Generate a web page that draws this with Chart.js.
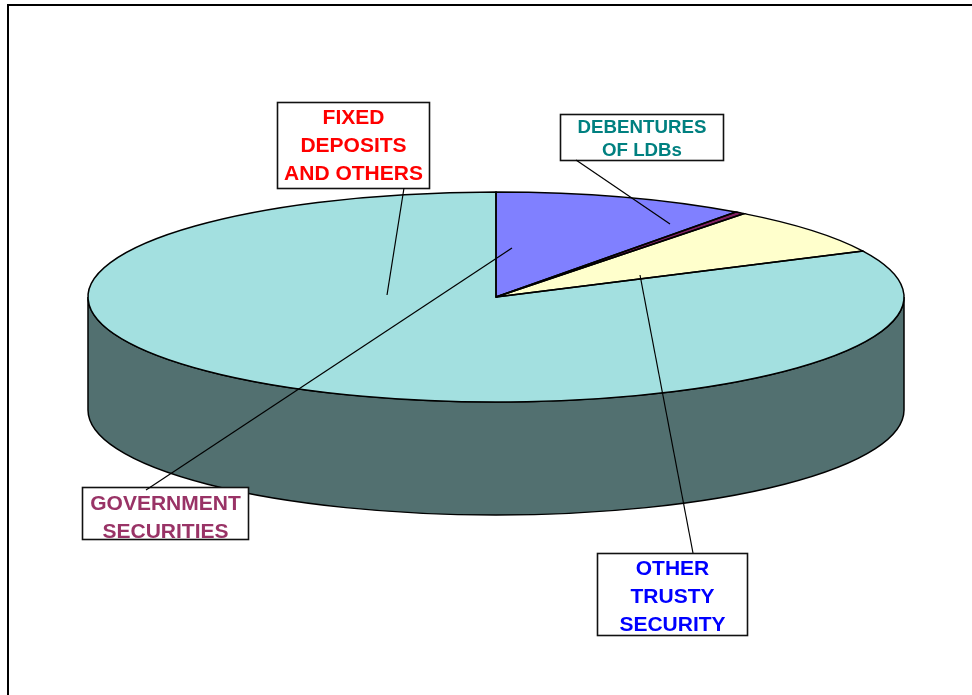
<!DOCTYPE html>
<html>
<head>
<meta charset="utf-8">
<title>Pie</title>
<script src="https://cdn.jsdelivr.net/npm/chart.js@4/dist/chart.umd.js"></script>
<style>
  html, body { margin: 0; padding: 0; background: #fff; overflow: hidden; }
  canvas { display: block; }
</style>
</head>
<body>
<canvas id="pie" width="972" height="695"></canvas>
<script>
// share of each slice, clockwise from 12 o'clock
const categories = ['GOVERNMENT SECURITIES', 'DEBENTURES OF LDBs', 'OTHER TRUSTY SECURITY', 'FIXED DEPOSITS AND OTHERS'];
const values = [10.0, 0.4, 7.4, 82.2];
const sliceColors = ['#8080FF', '#802060', '#FFFFCC', '#A3E0E0'];

// callout boxes
const labelLines = [
  ['GOVERNMENT', 'SECURITIES'],
  ['DEBENTURES', 'OF LDBs'],
  ['OTHER', 'TRUSTY', 'SECURITY'],
  ['FIXED', 'DEPOSITS', 'AND OTHERS']
];
const labelColors = ['#993366', '#008080', '#0000FF', '#FF0000'];
const labelBoxes = [
  [82.5, 487.5, 166, 52],
  [560.5, 114.5, 163, 46],
  [597.5, 553.5, 150, 82],
  [277.5, 102.5, 152, 86]
];
const labelFonts = [21, 18.7, 21, 21];
const labelFirstY = [504, 127.5, 569, 118];
const labelStep = [28, 23.5, 28, 28];
const leaders = [
  [146, 490, 512, 248],
  [576, 160, 670, 224],
  [693, 553, 640, 275],
  [404, 188, 387, 295]
];

// squashed pie geometry
const CX = 496, CY = 297, RX = 408, RY = 105, DEPTH = 113;

function squash(ctx, arc) {
  const r = arc.outerRadius;
  ctx.translate(CX, CY);
  ctx.scale(RX / r, RY / r);
  ctx.translate(-arc.x, -arc.y);
}

const tiltPlugin = {
  id: 'tilt',
  beforeDatasetsDraw(chart) {
    const ctx = chart.ctx;
    // side wall of the disc
    ctx.save();
    ctx.beginPath();
    ctx.ellipse(CX, CY, RX, RY, 0, Math.PI, 0, true);
    ctx.lineTo(CX + RX, CY + DEPTH);
    ctx.ellipse(CX, CY + DEPTH, RX, RY, 0, 0, Math.PI, false);
    ctx.closePath();
    ctx.fillStyle = '#527070';
    ctx.fill();
    ctx.strokeStyle = '#000';
    ctx.lineWidth = 1.5;
    ctx.stroke();
    ctx.restore();

    ctx.save();
    squash(ctx, chart.getDatasetMeta(0).data[0]);
  },
  afterDatasetsDraw(chart) {
    const ctx = chart.ctx;
    ctx.restore();
    // outlines go here so the line width is not squashed with the arcs
    chart.getDatasetMeta(0).data.forEach(arc => {
      ctx.save();
      squash(ctx, arc);
      ctx.beginPath();
      ctx.moveTo(arc.x, arc.y);
      ctx.arc(arc.x, arc.y, arc.outerRadius, arc.startAngle, arc.endAngle);
      ctx.closePath();
      ctx.restore();
      ctx.strokeStyle = '#000';
      ctx.lineWidth = 1.5;
      ctx.stroke();
    });
  },
  afterDraw(chart) {
    const ctx = chart.ctx;
    ctx.save();

    // page frame, only top and left show
    ctx.strokeStyle = '#000';
    ctx.lineWidth = 2;
    ctx.beginPath();
    ctx.moveTo(8, 695);
    ctx.lineTo(8, 5);
    ctx.lineTo(972, 5);
    ctx.stroke();

    // boxes and their text, the text gets cut by the box like in the original
    labelBoxes.forEach((b, i) => {
      ctx.fillStyle = '#fff';
      ctx.fillRect(b[0], b[1], b[2], b[3]);
      ctx.save();
      ctx.beginPath();
      ctx.rect(b[0], b[1], b[2], b[3]);
      ctx.clip();
      ctx.fillStyle = labelColors[i];
      ctx.font = 'bold ' + labelFonts[i] + 'px "Liberation Sans", Arial, sans-serif';
      ctx.textAlign = 'center';
      ctx.textBaseline = 'middle';
      labelLines[i].forEach((t, j) => {
        ctx.fillText(t, b[0] + b[2] / 2, labelFirstY[i] + j * labelStep[i]);
      });
      ctx.restore();
      ctx.strokeStyle = '#111';
      ctx.lineWidth = 1.6;
      ctx.strokeRect(b[0], b[1], b[2], b[3]);
    });

    // leader lines sit on top of the boxes
    ctx.strokeStyle = '#000';
    ctx.lineWidth = 1.2;
    leaders.forEach(l => {
      ctx.beginPath();
      ctx.moveTo(l[0], l[1]);
      ctx.lineTo(l[2], l[3]);
      ctx.stroke();
    });
    ctx.restore();
  }
};

new Chart(document.getElementById('pie').getContext('2d'), {
  type: 'pie',
  data: {
    labels: categories,
    datasets: [{
      data: values,
      backgroundColor: sliceColors,
      borderWidth: 0
    }]
  },
  options: {
    responsive: false,
    animation: false,
    devicePixelRatio: 1,
    plugins: {
      legend: { display: false },
      tooltip: { enabled: false }
    }
  },
  plugins: [tiltPlugin]
});
</script>
</body>
</html>
